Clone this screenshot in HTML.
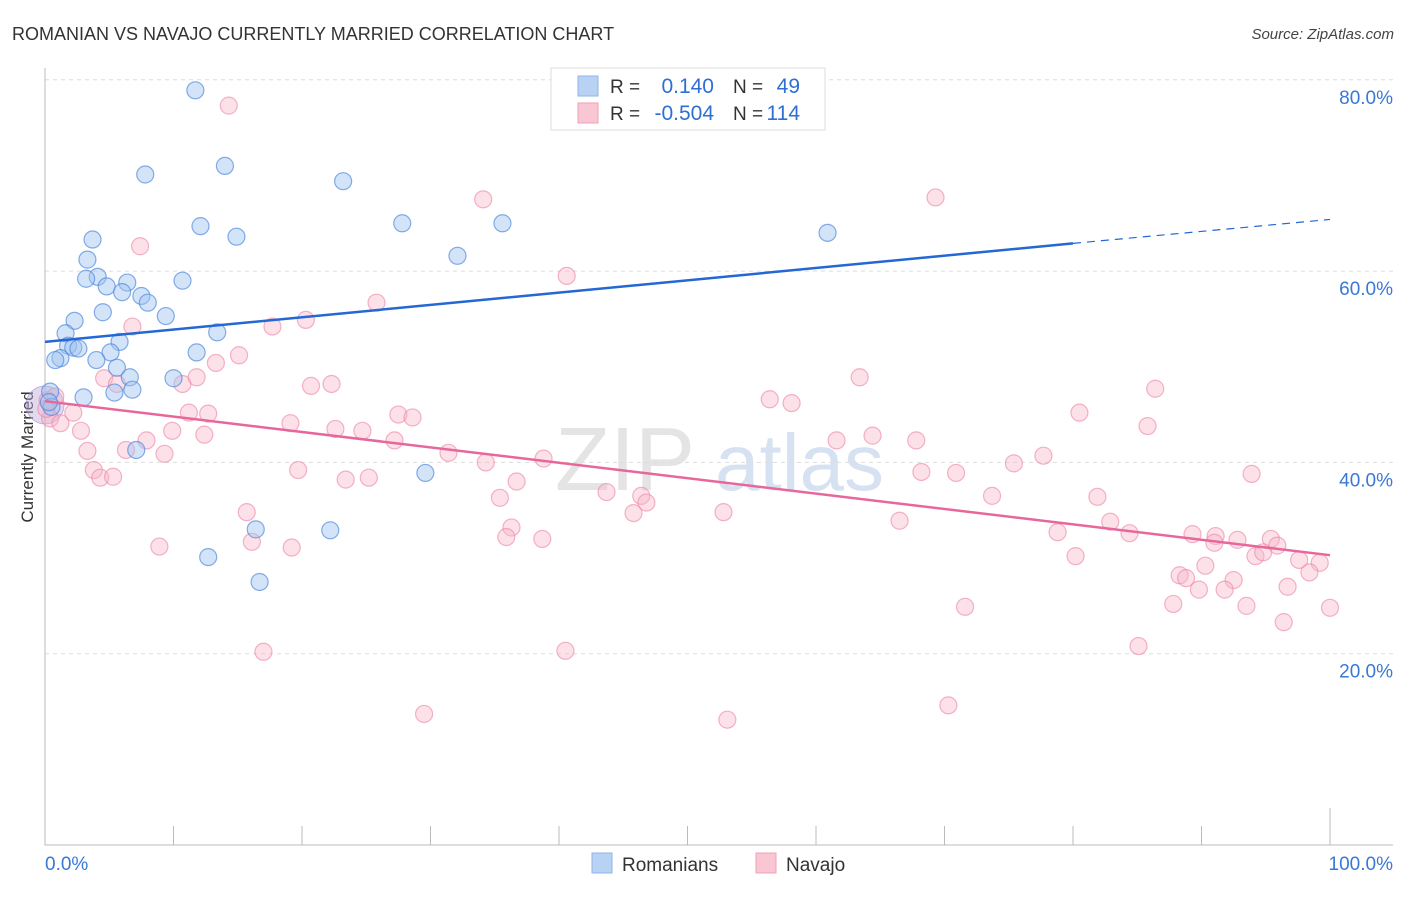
<!DOCTYPE html>
<html><head><meta charset="utf-8"><style>
body{margin:0;background:#fff;font-family:"Liberation Sans",sans-serif;}
svg text{font-family:"Liberation Sans",sans-serif;}
</style></head><body>
<svg id="chart" width="1406" height="892" xmlns="http://www.w3.org/2000/svg">
<text x="12" y="40" font-size="18" fill="#333">ROMANIAN VS NAVAJO CURRENTLY MARRIED CORRELATION CHART</text>
<text x="1394" y="39" font-size="15" fill="#444" text-anchor="end" font-style="italic">Source: ZipAtlas.com</text>
<text transform="translate(33,457) rotate(-90)" font-size="17" fill="#333" text-anchor="middle">Currently Married</text>
<g><text x="555" y="490" font-size="90" fill="#e4e4e4" font-family="Liberation Serif,serif">ZIP</text><text x="715" y="490" font-size="80" fill="#d6e2f2">atlas</text></g>
<g id="grid"></g><g id="axes"></g><g id="pts"></g><g id="trends"></g>
<g>
<rect x="551" y="68" width="274" height="62" fill="#fff" stroke="#ddd"/>
<rect x="578" y="76" width="20" height="20" fill="#b8d2f4" stroke="#8fb4e8"/>
<rect x="578" y="103" width="20" height="20" fill="#f9c6d4" stroke="#f0a0b8"/>
<text x="610" y="93" font-size="19" fill="#333">R =</text><text x="714" y="93" font-size="21" fill="#2f6fd4" text-anchor="end">0.140</text>
<text x="733" y="93" font-size="19" fill="#333">N =</text><text x="800" y="93" font-size="21" fill="#2f6fd4" text-anchor="end">49</text>
<text x="610" y="120" font-size="19" fill="#333">R =</text><text x="714" y="120" font-size="21" fill="#2f6fd4" text-anchor="end">-0.504</text>
<text x="733" y="120" font-size="19" fill="#333">N =</text><text x="800" y="120" font-size="21" fill="#2f6fd4" text-anchor="end">114</text>
</g>
<g>
<rect x="592" y="853" width="20" height="20" fill="#b8d2f4" stroke="#8fb4e8"/>
<text x="622" y="871" font-size="19" fill="#333">Romanians</text>
<rect x="756" y="853" width="20" height="20" fill="#f9c6d4" stroke="#f0a0b8"/>
<text x="786" y="871" font-size="19" fill="#333">Navajo</text>
</g>
</svg>
<script>
const yTicks=[20,40,60,80];
const yTickLabels=["20.0%","40.0%","60.0%","80.0%"];
const xTicks=[0,10,20,30,40,50,60,70,80,90,100];
const romX=[11.7,7.8,14.0,23.2,27.8,35.6,12.1,14.9,3.7,32.1,3.3,4.1,3.2,6.4,10.7,4.8,6.0,7.5,8.0,4.5,9.4,2.3,13.4,1.6,5.8,1.8,2.2,2.6,11.8,5.1,1.2,0.8,4.0,5.6,6.6,10.0,5.4,6.8,3.0,0.4,0.5,7.1,29.6,16.4,22.2,12.7,16.7,60.9,0.3];
const romY=[78.9,70.1,71.0,69.4,65.0,65.0,64.7,63.6,63.3,61.6,61.2,59.4,59.2,58.8,59.0,58.4,57.8,57.4,56.7,55.7,55.3,54.8,53.6,53.5,52.6,52.2,52.0,51.9,51.5,51.5,50.9,50.7,50.7,49.9,48.9,48.8,47.3,47.6,46.8,47.4,45.8,41.3,38.9,33.0,32.9,30.1,27.5,64.0,46.3];
const navX=[14.3,34.1,69.3,7.4,40.6,25.8,20.3,17.7,6.8,15.1,13.3,86.4,63.4,4.6,5.6,10.7,11.8,20.7,22.3,56.4,58.1,0.2,0.4,1.2,2.2,11.2,12.7,27.5,28.6,80.5,19.1,85.8,2.8,9.9,12.4,24.7,22.6,27.2,61.6,64.4,67.8,7.9,3.3,6.3,9.3,31.4,38.8,77.7,75.4,34.3,19.7,68.2,70.9,3.8,4.3,5.3,23.4,25.2,36.7,93.9,43.7,46.4,35.4,73.7,81.9,46.8,45.8,52.8,15.7,66.5,36.3,35.9,38.7,16.1,78.8,82.9,84.4,89.3,91.1,91.0,92.8,95.4,95.9,94.2,94.8,80.2,8.9,19.2,97.6,99.2,98.4,88.3,88.8,90.3,92.5,91.8,89.8,96.7,87.8,93.5,71.6,100,96.4,85.1,40.5,17.0,70.3,29.5,53.1,0.1,0.8];
const navY=[77.3,67.5,67.7,62.6,59.5,56.7,54.9,54.2,54.2,51.2,50.4,47.7,48.9,48.8,48.2,48.2,48.9,48.0,48.2,46.6,46.2,46.5,44.6,44.1,45.2,45.2,45.1,45.0,44.7,45.2,44.1,43.8,43.3,43.3,42.9,43.3,43.5,42.3,42.3,42.8,42.3,42.3,41.2,41.3,40.9,41.0,40.4,40.7,39.9,40.0,39.2,39.0,38.9,39.2,38.4,38.5,38.2,38.4,38.0,38.8,36.9,36.5,36.3,36.5,36.4,35.8,34.7,34.8,34.8,33.9,33.2,32.2,32.0,31.7,32.7,33.8,32.6,32.5,32.3,31.6,31.9,32.0,31.3,30.2,30.6,30.2,31.2,31.1,29.8,29.5,28.5,28.2,27.9,29.2,27.7,26.7,26.7,27.0,25.2,25.0,24.9,24.8,23.3,20.8,20.3,20.2,14.6,13.7,13.1,45.6,46.9];
const romTrend=[52.6,62.9,65.4]; // at x=0, 80, 100
const navTrend=[46.4,30.3];      // at x=0, 100
const NS="http://www.w3.org/2000/svg";
const X=v=>45+v*12.85, Y=v=>845-v*9.565;
function mk(t,a,p){const e=document.createElementNS(NS,t);for(const k in a)e.setAttribute(k,a[k]);p.appendChild(e);return e;}
const grid=document.getElementById('grid'),axes=document.getElementById('axes'),pts=document.getElementById('pts'),tr=document.getElementById('trends');
yTicks.forEach((t,i)=>{
 const l=mk('line',{x1:45,x2:1393,y1:Y(t),y2:Y(t),stroke:'#ddd','stroke-dasharray':'4,4'},grid);
 
 
 const tx=mk('text',{x:1393,y:Y(t)+24,'font-size':19,fill:'#3a78d6','text-anchor':'end'},grid);
 tx.textContent=yTickLabels[i];
 
 
});
const ax=mk('path',{d:'M45,68V845H1393',stroke:'#bbb',fill:'none'},axes);


xTicks.forEach(t=>{
 if(t===0)return;
 const tk=mk('line',{x1:X(t),x2:X(t),y1:t===100?808:826,y2:845,stroke:'#bbb'},axes);
 
 
});
const xl0=mk('text',{x:45,y:870,'font-size':19,fill:'#3a78d6'},axes);xl0.textContent='0.0%';


const xl1=mk('text',{x:1393,y:870,'font-size':19,fill:'#3a78d6','text-anchor':'end'},axes);xl1.textContent='100.0%';


const big=mk('circle',{cx:X(0),cy:Y(46),r:19,fill:'rgba(190,170,220,0.45)',stroke:'rgba(150,140,210,0.6)'},pts);


navX.forEach((x,i)=>{
 const c=mk('circle',{cx:X(x),cy:Y(navY[i]),r:8.5,fill:'rgba(248,180,200,0.4)',stroke:'rgba(236,130,165,0.6)','stroke-width':1.2},pts);
 
 
});
romX.forEach((x,i)=>{
 const c=mk('circle',{cx:X(x),cy:Y(romY[i]),r:8.5,fill:'rgba(160,195,240,0.45)',stroke:'rgba(70,130,220,0.65)','stroke-width':1.2},pts);
 
 
});
const rt=mk('line',{x1:X(0),y1:Y(romTrend[0]),x2:X(80),y2:Y(romTrend[1]),stroke:'#2468d4','stroke-width':2.5},tr);


const rd=mk('line',{x1:X(80),y1:Y(romTrend[1]),x2:X(100),y2:Y(romTrend[2]),stroke:'#2468d4','stroke-width':1.2,'stroke-dasharray':'8,6'},tr);


const nt=mk('line',{x1:X(0),y1:Y(navTrend[0]),x2:X(100),y2:Y(navTrend[1]),stroke:'#e8679a','stroke-width':2.5},tr);


</script>
</body></html>
